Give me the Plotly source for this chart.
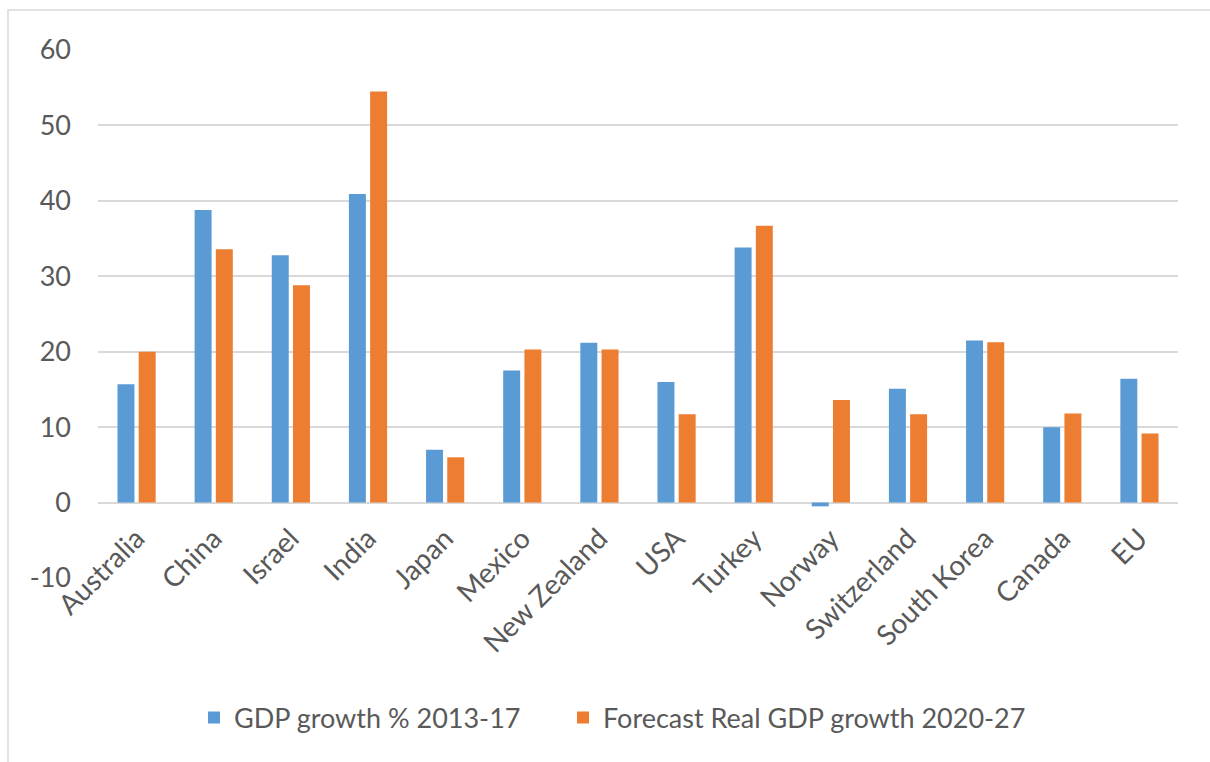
import plotly.graph_objects as go

countries = ["Australia", "China", "Israel", "India", "Japan", "Mexico", "New Zealand",
             "USA", "Turkey", "Norway", "Switzerland", "South Korea", "Canada", "EU"]
gdp_2013_17 = [15.7, 38.8, 32.8, 40.9, 7.0, 17.5, 21.2, 16.0, 33.8, -0.5, 15.1, 21.5, 10.0, 16.4]
forecast_2020_27 = [20.0, 33.6, 28.8, 54.5, 6.0, 20.3, 20.3, 11.7, 36.7, 13.6, 11.7, 21.25, 11.8, 9.15]
y_ticks = [-10, 0, 10, 20, 30, 40, 50, 60]
y_tick_text = ["-10", "0", "10", "20", "30", "40", "50", "60"]
y_min, y_max = -10, 60

W, H = 1210, 762
L, R, T, B = 98, 32, 50, 184
pw, ph = W - L - R, H - T - B

text_col = "#595959"
grid_col = "#d9d9d9"
font_family = "Lato, Open Sans, sans-serif"

fig = go.Figure()
fig.add_trace(go.Bar(x=countries, y=gdp_2013_17, name="GDP growth % 2013-17",
                     marker=dict(color="#5b9bd5", line=dict(width=0)), legend="legend"))
fig.add_trace(go.Bar(x=countries, y=forecast_2020_27, name="Forecast Real GDP growth 2020-27",
                     marker=dict(color="#ed7d31", line=dict(width=0)), legend="legend2"))

# outer chart border (light grey frame)
def px_x(px):
    return (px - L) / pw

def px_y(py):
    return (H - B - py) / ph

fig.add_shape(type="rect", xref="paper", yref="paper",
              x0=px_x(8), x1=px_x(1220), y0=px_y(775), y1=px_y(10),
              line=dict(color=grid_col, width=1.5), fillcolor="rgba(0,0,0,0)", layer="below")

# category axis crosses the value axis at zero
zero_pos = (0 - y_min) / (y_max - y_min)

legend_common = dict(orientation="h", xref="container", yref="container",
                     y=1 - 718 / H, xanchor="left", yanchor="middle",
                     font=dict(size=27, color=text_col, family=font_family),
                     itemwidth=30, bgcolor="rgba(0,0,0,0)")

fig.update_layout(
    width=W, height=H,
    margin=dict(l=L, r=R, t=T, b=B, autoexpand=False),
    paper_bgcolor="white", plot_bgcolor="white",
    barmode="group", bargap=0.45, bargroupgap=0.2,
    font=dict(family=font_family, color=text_col, size=26),
    showlegend=True,
    legend=dict(x=194 / W, **legend_common),
    legend2=dict(x=563 / W, **legend_common),
    xaxis=dict(showgrid=False, showline=False, zeroline=False, tickangle=-45,
               ticks="", anchor="free", position=zero_pos, ticklabelstandoff=13,
               tickfont=dict(size=28, color=text_col)),
    yaxis=dict(range=[y_min, y_max], tickvals=y_ticks, ticktext=y_tick_text,
               showgrid=True, gridcolor=grid_col,
               gridwidth=1.5, zeroline=True, zerolinecolor=grid_col, zerolinewidth=1.5,
               showline=False, ticks="", ticklabelstandoff=26,
               tickfont=dict(size=27, color=text_col)),
)

fig.write_html("out.html")
